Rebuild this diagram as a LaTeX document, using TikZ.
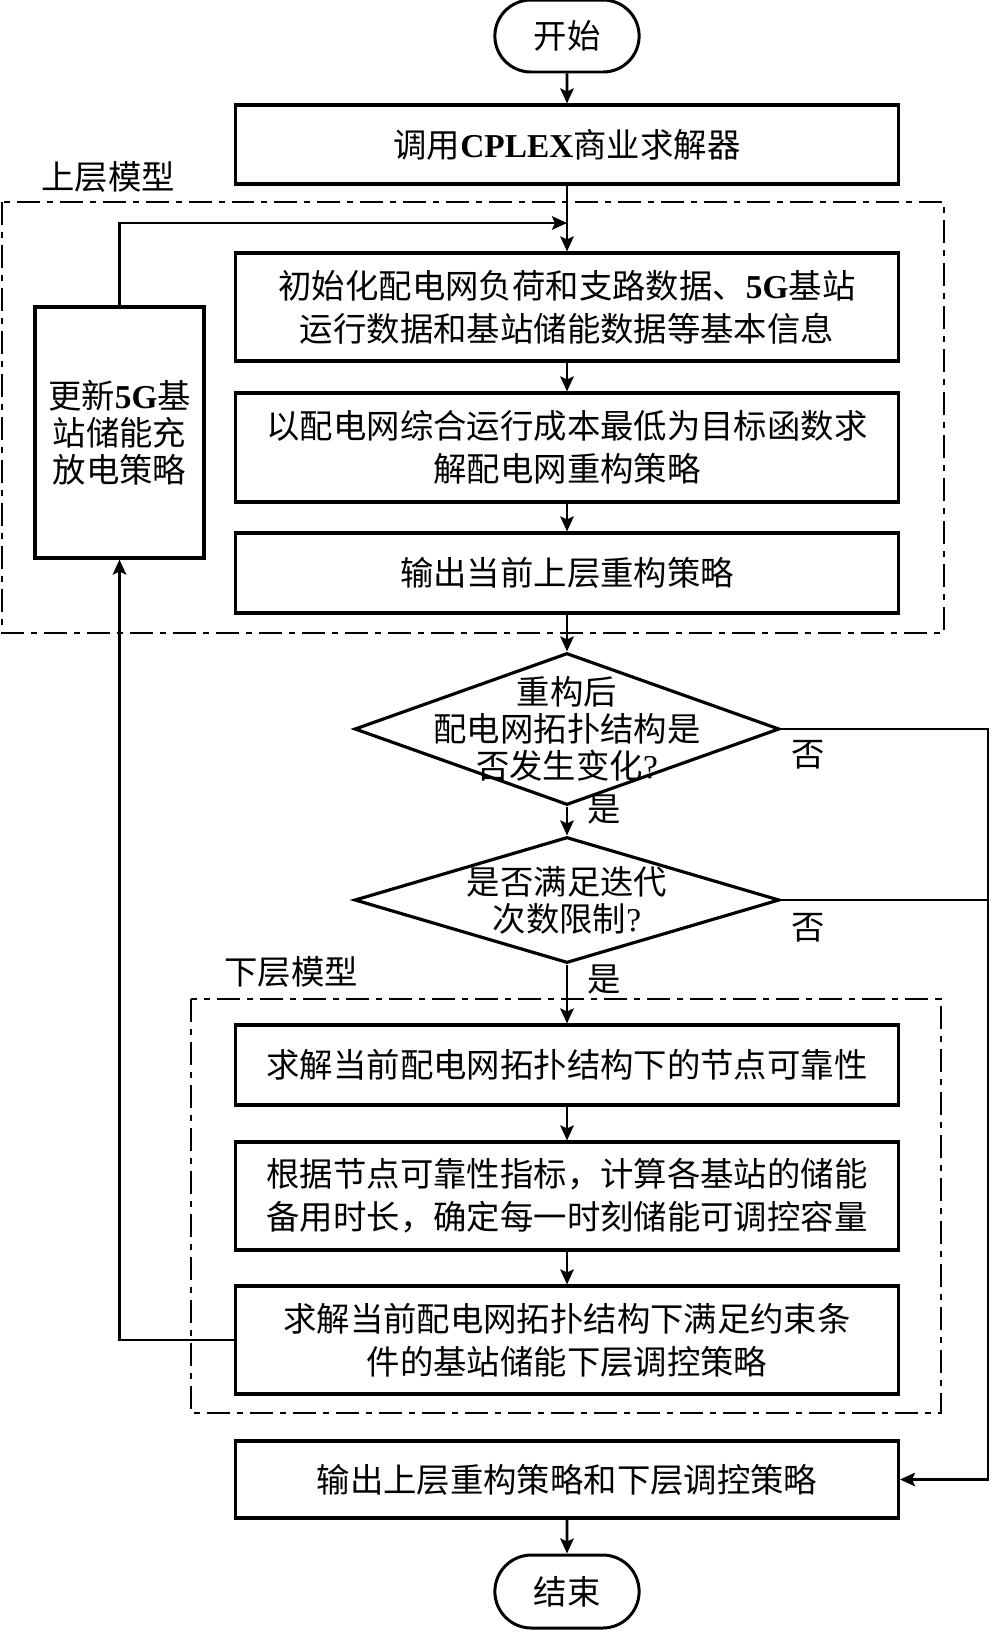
\documentclass[tikz,border=0pt]{standalone}
\usepackage{fontspec}
\setmainfont{Noto Sans CJK SC}
\newfontfamily\latinfont{Liberation Serif}
\usetikzlibrary{arrows.meta,shapes.geometric,shapes.misc,positioning}

\begin{document}
\begin{tikzpicture}[x=0.02cm,y=-0.02cm,
  term/.style={rounded rectangle,draw,line width=1.7pt,minimum width=3.12cm,
               minimum height=1.44cm,font=\fontsize{19}{24}\selectfont},
  proc/.style={rectangle,draw,line width=1.8pt,minimum width=13.26cm,align=center,
               inner sep=0pt,font=\fontsize{19}{24.5}\selectfont},
  dec/.style={diamond,draw,line width=1.8pt,minimum width=8.5cm,inner sep=0pt},
  dectext/.style={align=center,font=\fontsize{19}{21}\selectfont},
  lbl/.style={font=\fontsize{19}{24}\selectfont,inner sep=0pt},
  frame/.style={line width=1.5pt,dash pattern=on 0.46cm off 0.14cm on 0.12cm off 0.14cm},
  arr/.style={-{Stealth[length=0.3cm,width=0.27cm,inset=0.06cm]},line width=1.5pt},
  line/.style={line width=1.5pt}]

  \useasboundingbox (0,0) rectangle (991,1633);

  % upper model
  \node[term] (start) at (567,36) {开始};
  \node[proc,minimum height=1.58cm] (cplex) at (567,144.5) {调用{\latinfont\bfseries CPLEX}商业求解器};
  \node[lbl] (upper) at (108,177) {上层模型};
  \node[proc,minimum height=2.16cm] (init) at (567,307)
    {初始化配电网负荷和支路数据、{\latinfont\bfseries 5G}基站\\运行数据和基站储能数据等基本信息};
  \node[proc,minimum height=2.18cm] (recon) at (567,447.5)
    {以配电网综合运行成本最低为目标函数求\\解配电网重构策略};
  \node[proc,minimum height=1.6cm] (outup) at (567,573) {输出当前上层重构策略};
  \node[proc,minimum width=3.38cm,minimum height=5.02cm,font=\fontsize{19}{21}\selectfont]
    (update) at (119.5,432.5) {更新{\latinfont\bfseries 5G}基\\站储能充\\放电策略};

  % decisions
  \node[dec,minimum height=3.04cm,
    label={[dectext]center:重构后\\配电网拓扑结构是\\否发生变化{\latinfont ?}}] (chg) at (567,729) {};
  \node[dec,minimum height=2.52cm,
    label={[dectext]center:是否满足迭代\\次数限制{\latinfont ?}}] (iter) at (567,900) {};
  \node[lbl] (no1) at (808,755) {否};
  \node[lbl] (yes1) at (604,810) {是};
  \node[lbl] (no2) at (808,928) {否};
  \node[lbl] (yes2) at (604,980) {是};

  % lower model
  \node[lbl] (lower) at (291,972) {下层模型};
  \node[proc,minimum height=1.6cm] (rel) at (567,1065) {求解当前配电网拓扑结构下的节点可靠性};
  \node[proc,minimum height=2.16cm] (cap) at (567,1196)
    {根据节点可靠性指标，计算各基站的储能\\备用时长，确定每一时刻储能可调控容量};
  \node[proc,minimum height=2.16cm] (low) at (567,1340)
    {求解当前配电网拓扑结构下满足约束条\\件的基站储能下层调控策略};
  \node[proc,minimum height=1.54cm] (outall) at (567,1479.5) {输出上层重构策略和下层调控策略};
  \node[term,minimum height=1.46cm] (stop) at (567,1591.5) {结束};

  \draw[frame] (2,202) rectangle (944,633);
  \draw[frame] (191,999) rectangle (941,1413);

  \coordinate (join) at (567,223);
  \coordinate (rside) at (988,729);

  \draw[arr] (start) -- (cplex);
  \draw[arr] (cplex) -- (init);
  \draw[arr] (update.north) |- (join);
  \draw[arr] (init) -- (recon);
  \draw[arr] (recon) -- (outup);
  \draw[arr] (outup) -- (chg);
  \draw[arr] (chg) -- (iter);
  \draw[arr] (iter) -- (rel);
  \draw[arr] (rel) -- (cap);
  \draw[arr] (cap) -- (low);
  \draw[arr] (low.west) -| (update.south);
  \draw[arr] (chg.east) -- (rside) |- (outall.east);
  \draw[line] (iter.east) -- (iter.east -| rside);
  \draw[arr] (outall) -- (stop);
\end{tikzpicture}
\end{document}
